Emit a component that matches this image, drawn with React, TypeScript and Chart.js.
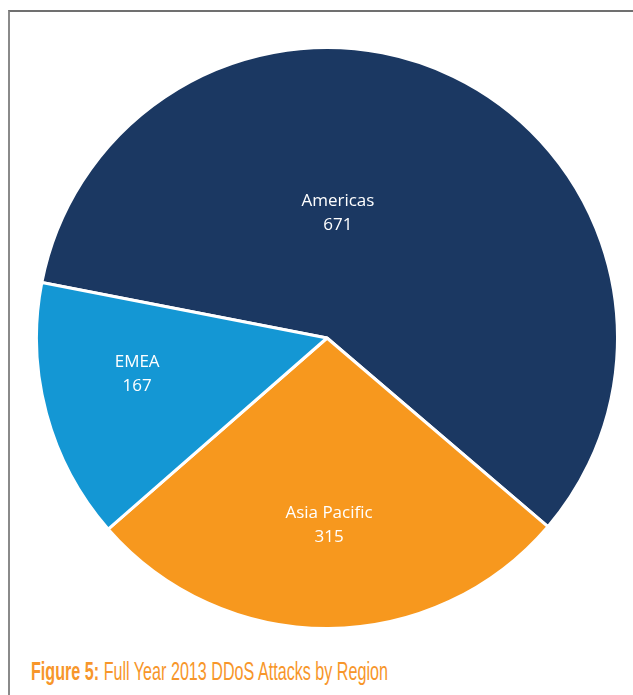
import React, { useEffect, useLayoutEffect, useRef } from "react";
import { Chart, registerables } from "chart.js";

Chart.register(...registerables);

const regions = ["Americas", "Asia Pacific", "EMEA"];
const attacks = [671, 315, 167];
const sliceColors = ["#1b3862", "#f7981e", "#1497d4"];
// label placement relative to each slice: fraction of radius, angle shift (deg)
const labelRadius = [0.43, 0.645, 0.665];
const labelShift = [-20.75, -0.3, 4.4];

const caption = { bold: "Figure 5:", rest: " Full Year 2013 DDoS Attacks by Region" };
const captionWidth = 357;

const sliceLabels = {
  id: "sliceLabels",
  afterDatasetsDraw(chart: any) {
    const ctx = chart.ctx;
    const meta = chart.getDatasetMeta(0);
    ctx.save();
    ctx.fillStyle = "#ffffff";
    ctx.textAlign = "center";
    ctx.textBaseline = "middle";
    ctx.font = '17px "Open Sans", "Noto Sans", sans-serif';
    meta.data.forEach((arc: any, i: number) => {
      const p = arc.getProps(["x", "y", "startAngle", "endAngle", "outerRadius"], true);
      const mid = (p.startAngle + p.endAngle) / 2 + (labelShift[i] * Math.PI) / 180;
      const r = p.outerRadius * labelRadius[i];
      const x = p.x + Math.cos(mid) * r;
      const y = p.y + Math.sin(mid) * r;
      ctx.fillText(regions[i], x, y - 12);
      ctx.fillText(String(attacks[i]), x, y + 12);
    });
    ctx.restore();
  },
};

export default function App() {
  const ref = useRef<HTMLCanvasElement>(null);
  const capRef = useRef<HTMLDivElement>(null);

  useLayoutEffect(() => {
    const el = capRef.current;
    if (!el) return;
    el.style.transform = "none";
    const w = el.getBoundingClientRect().width;
    if (w > 0) el.style.transform = `scaleX(${captionWidth / w})`;
  }, []);

  useEffect(() => {
    const chart = new Chart(ref.current!, {
      type: "pie",
      data: {
        labels: regions,
        datasets: [
          {
            data: attacks,
            backgroundColor: sliceColors,
            borderColor: "#ffffff",
            borderWidth: 3,
            hoverOffset: 0,
          },
        ],
      },
      options: {
        responsive: false,
        animation: false,
        rotation: 281,
        layout: { padding: 0 },
        plugins: {
          legend: { display: false },
          tooltip: { enabled: false },
        },
      },
      plugins: [sliceLabels],
    });
    return () => chart.destroy();
  }, []);

  return (
    <div
      style={{
        position: "fixed",
        left: 0,
        top: 0,
        width: 633,
        height: 695,
        background: "#ffffff",
        overflow: "hidden",
      }}
    >
      <div
        style={{
          position: "absolute",
          left: 8,
          top: 10,
          width: 800,
          height: 800,
          borderTop: "2px solid #707070",
          borderLeft: "2px solid #8a8a8a",
        }}
      />
      <canvas
        ref={ref}
        width={584}
        height={584}
        style={{ position: "absolute", left: 35, top: 46, width: 584, height: 584 }}
      />
      <div
        ref={capRef}
        style={{
          position: "absolute",
          left: 31,
          top: 656,
          fontFamily: '"Liberation Sans", Arial, sans-serif',
          fontSize: 25,
          color: "#f7962a",
          whiteSpace: "nowrap",
          lineHeight: "30px",
          transformOrigin: "0 0",
        }}
      >
        <span style={{ fontWeight: 700 }}>{caption.bold}</span>
        <span>{caption.rest}</span>
      </div>
    </div>
  );
}
